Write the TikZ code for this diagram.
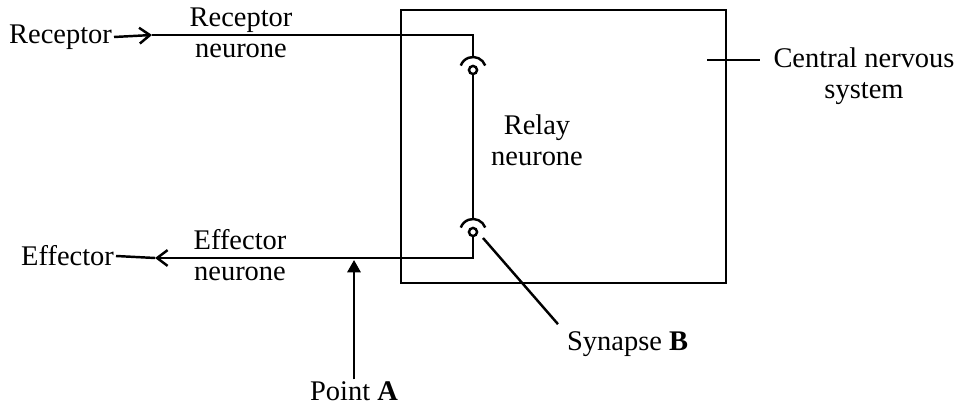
\documentclass[tikz,border=0pt]{standalone}
\usepackage{fontspec}
\setmainfont{Liberation Serif}
\usetikzlibrary{arrows.meta}

\tikzset{
  nerve/.style={line width=1.4pt},
  barb/.style={-{Straight Barb[length=6pt, width=9pt]}},
  lbl/.style={font=\fontsize{16.2}{17.5}\selectfont, align=center, inner sep=1pt},
}

\begin{document}
\begin{tikzpicture}[x=0.02cm, y=-0.02cm]
    \useasboundingbox (0,0) rectangle (963,408);

    % The central nervous system box and its label
    \draw[nerve] (401,10) rectangle (726,283);
    \coordinate (cnsTick) at (707,60);
    \coordinate (cnsEnd)  at (760,60);
    \draw[nerve] (cnsTick) -- (cnsEnd);
    \node[lbl] (cns) at (864,76) {Central nervous\\system};

    % Synapses: knob (circle) below a cap (arc)
    \foreach \name/\y in {synTop/70, synBot/232}{
        \coordinate (\name) at (473,\y);
        \draw[nerve] (\name) circle[radius=2.3pt];
        \draw[nerve] ([shift={(20:7.4pt)}]\name) arc[start angle=20, end angle=160, radius=7.4pt];
    }

    % Labels
    \node[lbl, anchor=east] (rec) at (114,37) {Receptor};
    \node[lbl, anchor=east] (eff) at (116,256) {Effector};
    \node[lbl] (recN) at (241,33) {Receptor\\neurone};
    \node[lbl] (effN) at (240,255) {Effector\\neurone};
    \node[lbl] (relN) at (537,140) {Relay\\neurone};
    \node[lbl] (ptA) at (354,391) {Point \textbf{A}};
    \node[lbl, anchor=west] (synB) at (565,344) {Synapse \textbf{B}};

    % Receptor neurone
    \coordinate (recArrow)  at (152,35);
    \coordinate (recCorner) at (473,35);
    \draw[nerve, barb] (rec.east) -- (recArrow);
    \draw[nerve] (recArrow) -- (recCorner) -- ([yshift=7.4pt]synTop);

    % Relay neurone
    \draw[nerve] ([yshift=-2.3pt]synTop) -- ([yshift=7.4pt]synBot);

    % Effector neurone
    \coordinate (effCorner) at (473,258);
    \coordinate (effArrow)  at (155,258);
    \draw[nerve, barb] ([yshift=-2.3pt]synBot) -- (effCorner) -- (effArrow);
    \draw[nerve] (effArrow) -- (eff.east);

    % Pointers
    \coordinate (ptATip)  at (354,260);
    \coordinate (synBTip) at (483,238);
    \draw[nerve, -{Triangle[length=7pt, width=7.5pt]}] (ptA.north) -- (ptATip);
    \draw[nerve] ([shift={(-4pt,3pt)}]synB.north west) -- (synBTip);
\end{tikzpicture}
\end{document}
